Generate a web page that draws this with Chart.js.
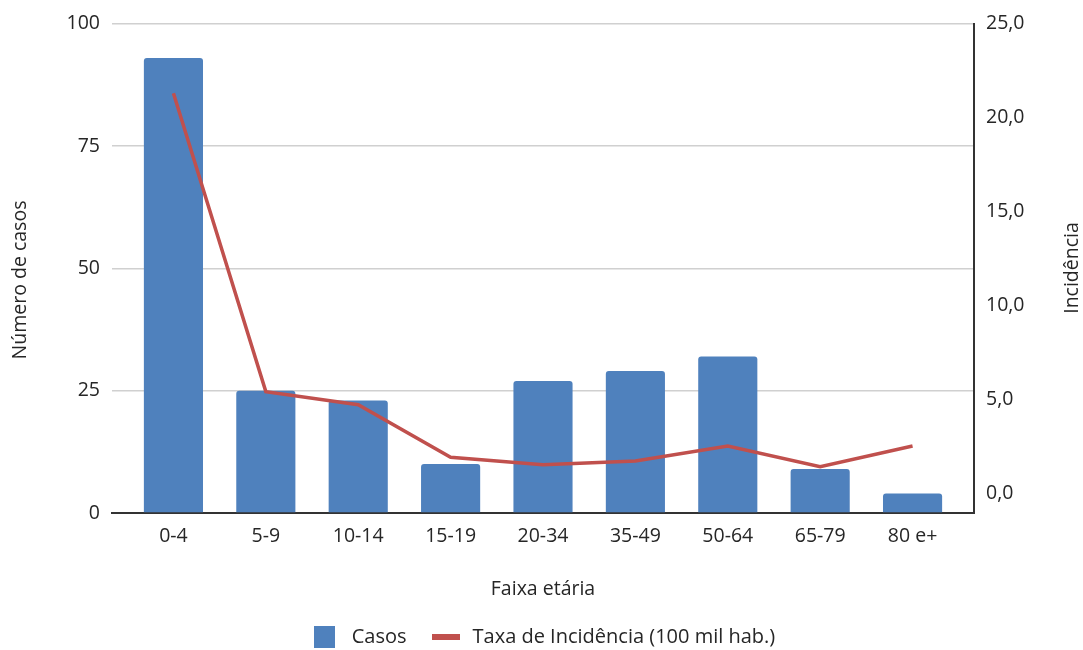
<!DOCTYPE html>
<html>
<head>
<meta charset="utf-8">
<script src="https://cdn.jsdelivr.net/npm/chart.js@4/dist/chart.umd.min.js"></script>
<style>
html,body{margin:0;padding:0;background:#fff;}
#wrap{width:1083px;height:650px;position:relative;}
</style>
</head>
<body>
<div id="wrap"><canvas id="c" width="1083" height="650"></canvas></div>
<script>
const categories = ['0-4','5-9','10-14','15-19','20-34','35-49','50-64','65-79','80 e+'];
const casos = [93, 25, 23, 10, 27, 29, 32, 9, 4];
const taxa = [21.3, 5.4, 4.7, 1.9, 1.5, 1.7, 2.5, 1.4, 2.5];
const leftTicks = [0, 25, 50, 75, 100];
const rightTicks = [0, 5, 10, 15, 20, 25];

const FONT = "'Open Sans', 'Noto Sans', sans-serif";
const FS = 19.5;
const TXT = '#262626';
const BLUE = '#4F81BD';
const RED = '#C0504D';

function marker(w, h, color) {
  const c = document.createElement('canvas');
  c.width = w; c.height = h;
  const g = c.getContext('2d');
  g.fillStyle = color;
  g.fillRect(0, 0, w, h);
  return c;
}

const axisTitles = {
  id: 'axisTitles',
  afterDraw(chart) {
    const g = chart.ctx;
    const items = [['Número de casos', 20, 280], ['Incidência', 1072, 268]];
    items.forEach(([t, x, y]) => {
      g.save();
      g.font = FS + 'px ' + FONT;
      g.fillStyle = TXT;
      g.textAlign = 'center';
      g.textBaseline = 'middle';
      g.translate(x, y);
      g.rotate(-Math.PI / 2);
      g.fillText(t, 0, 0);
      g.restore();
    });
  }
};

const barData = casos.map((v, i) => ({x: i, y: v}));
const lineData = taxa.map((v, i) => ({x: i, y: v}));

new Chart(document.getElementById('c'), {
  data: {
    datasets: [
      {
        type: 'line',
        label: 'Taxa de Incidência (100 mil hab.)',
        data: lineData,
        yAxisID: 'y1',
        borderColor: RED,
        backgroundColor: RED,
        borderWidth: 3.5,
        pointRadius: 0,
        pointHoverRadius: 0,
        tension: 0,
        order: 0,
        pointStyle: marker(28, 6, RED)
      },
      {
        type: 'bar',
        label: 'Casos',
        data: barData,
        yAxisID: 'y',
        backgroundColor: BLUE,
        borderRadius: {topLeft: 3, topRight: 3, bottomLeft: 0, bottomRight: 0},
        borderSkipped: 'bottom',
        categoryPercentage: 1,
        barPercentage: 0.64,
        order: 1,
        pointStyle: marker(21, 22, BLUE)
      }
    ]
  },
  options: {
    responsive: false,
    animation: false,
    layout: {padding: {top: 16, left: 0, right: 0, bottom: -7}},
    plugins: {
      legend: {
        position: 'bottom',
        reverse: true,
        labels: {
          usePointStyle: true,
          pointStyleWidth: 34,
          font: {family: FONT, size: 20},
          color: TXT,
          padding: 22
        }
      },
      tooltip: {enabled: false}
    },
    scales: {
      x: {
        type: 'linear',
        position: 'bottom',
        offset: false,
        min: -0.665, max: 8.665,
        afterBuildTicks: s => { s.ticks = categories.map((c, i) => ({value: i})); },
        grid: {display: false, drawTicks: false, offset: false},
        border: {display: true, color: '#333333', width: 2},
        ticks: {font: {family: FONT, size: FS}, color: TXT, padding: 12, autoSkip: false, maxRotation: 0,
          callback: v => categories[v]},
        title: {display: true, text: 'Faixa etária', font: {family: FONT, size: FS}, color: TXT, padding: {top: 0, bottom: 4}},
        afterFit: s => { s.height = 92; }
      },
      y: {
        position: 'left',
        min: 0, max: 100,
        afterBuildTicks: s => { s.ticks = leftTicks.map(v => ({value: v})); },
        grid: {color: '#d0d0d0', lineWidth: 1.5, drawTicks: false},
        border: {display: false},
        ticks: {font: {family: FONT, size: FS}, color: TXT, padding: 12},
        afterFit: s => { s.width = 112; }
      },
      y1: {
        position: 'right',
        min: -1.066, max: 25,
        afterBuildTicks: s => { s.ticks = rightTicks.map(v => ({value: v})); },
        grid: {display: false, drawTicks: false},
        border: {display: true, color: '#333333', width: 2},
        ticks: {font: {family: FONT, size: FS}, color: TXT, padding: 12,
          callback: v => Number(v).toFixed(1).replace('.', ',')},
        afterFit: s => { s.width = 109; }
      }
    }
  },
  plugins: [axisTitles]
});
</script>
</body>
</html>
